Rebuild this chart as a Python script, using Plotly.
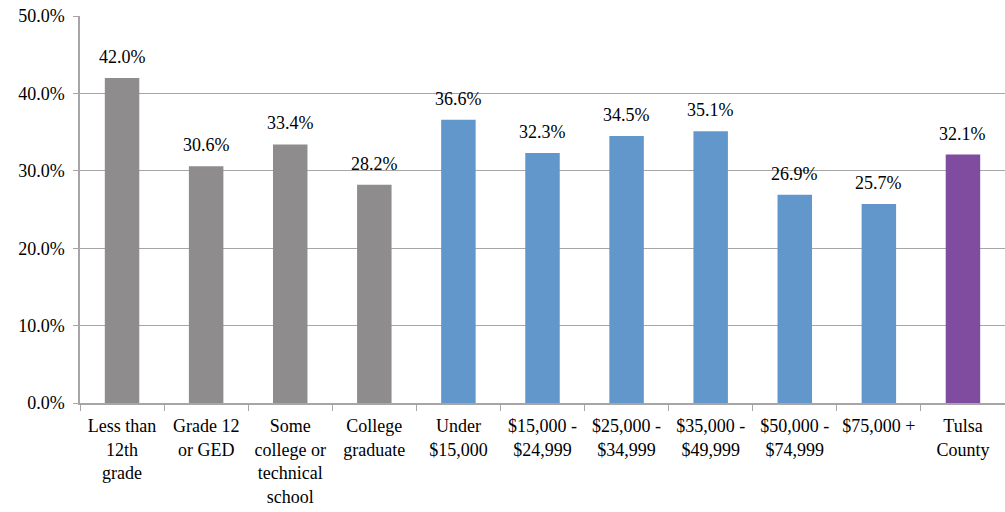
import plotly.graph_objects as go

categories = ["Less than<br>12th<br>grade", "Grade 12<br>or GED", "Some<br>college or<br>technical<br>school",
              "College<br>graduate", "Under<br>$15,000", "$15,000 -<br>$24,999", "$25,000 -<br>$34,999",
              "$35,000 -<br>$49,999", "$50,000 -<br>$74,999", "$75,000 +", "Tulsa<br>County"]
values = [42.0, 30.6, 33.4, 28.2, 36.6, 32.3, 34.5, 35.1, 26.9, 25.7, 32.1]
groups = ["edu"] * 4 + ["inc"] * 6 + ["total"]
group_colors = {"edu": "#8E8C8D", "inc": "#6197CA", "total": "#7F4C9F"}
ytick_vals = [0, 10, 20, 30, 40, 50]
ytick_text = ["0.0%", "10.0%", "20.0%", "30.0%", "40.0%", "50.0%"]

font = "'Liberation Serif', 'Times New Roman', serif"

fig = go.Figure(go.Bar(
    x=categories, y=values,
    marker=dict(color=[group_colors[g] for g in groups], line=dict(width=0)),
    width=0.41, hoverinfo="x+y",
))

for c, v in zip(categories, values):
    fig.add_annotation(x=c, y=v, text=f"{v:.1f}%", showarrow=False,
                       yanchor="middle", yshift=21,
                       font=dict(family=font, size=18, color="#000000"))

fig.update_layout(
    width=1005, height=512,
    margin=dict(l=80, r=0, t=16, b=109),
    paper_bgcolor="white", plot_bgcolor="white",
    font=dict(family=font, size=18, color="#000000"),
    showlegend=False,
)
fig.update_yaxes(range=[0, 50], tickvals=ytick_vals, ticktext=ytick_text,
                 showgrid=True, gridcolor="#A6A6A6", gridwidth=1,
                 showline=True, linecolor="#A6A6A6", linewidth=1.5,
                 ticks="outside", ticklen=5, tickcolor="#A6A6A6", ticklabelstandoff=5,
                 zeroline=False, automargin=False, tickfont=dict(family=font, size=18))
fig.update_xaxes(showline=True, linecolor="#A6A6A6", linewidth=1.5,
                 ticks="outside", ticklen=6, tickcolor="#A6A6A6", tickson="boundaries",
                 ticklabelstandoff=6,
                 tickangle=0, automargin=False, tickfont=dict(family=font, size=18))

fig.write_html("out.html", config={"displayModeBar": False},
               post_script="document.body.style.margin='0';document.body.style.overflow='hidden';")
